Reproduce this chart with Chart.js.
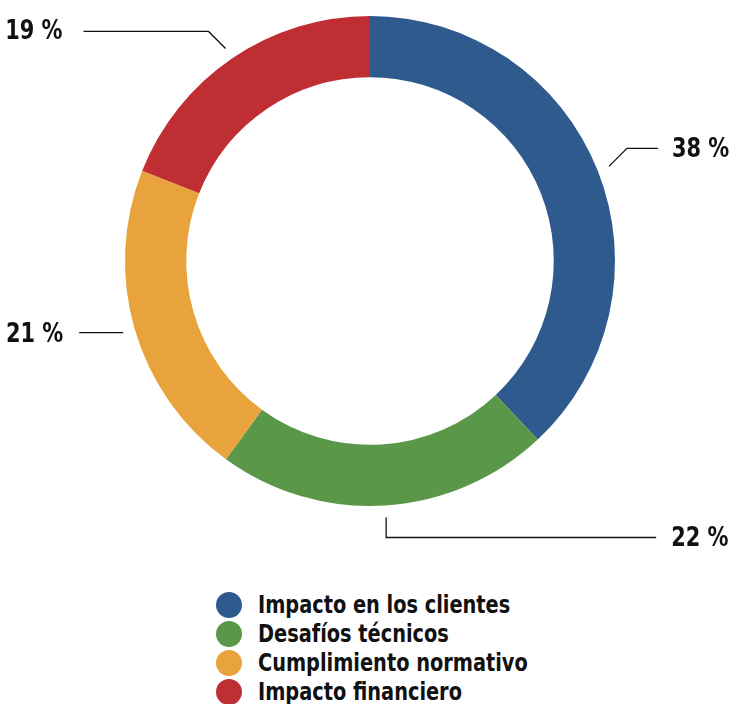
<!DOCTYPE html>
<html>
<head>
<meta charset="utf-8">
<script src="https://cdn.jsdelivr.net/npm/chart.js@4"></script>
<style>
    html, body { margin: 0; padding: 0; background: #fff; }
    #wrap { position: relative; width: 733px; height: 704px; overflow: hidden; }
    #chartBox { position: absolute; left: 0; top: 0; width: 733px; height: 570px; }
    #legend { position: absolute; left: 216px; top: 590px; font-family: "DejaVu Sans Condensed", sans-serif; font-size: 25px; font-weight: bold; color: #111; }
    #legend div { display: flex; align-items: center; height: 29px; }
    #legend span.dot { display: inline-block; width: 26px; height: 26px; border-radius: 50%; margin-right: 16px; flex: none; }
    #legend span.txt { display: inline-block; transform: scaleX(0.86); transform-origin: left center; white-space: nowrap; }
</style>
</head>
<body>
<div id="wrap">
    <div id="chartBox"><canvas id="donut"></canvas></div>
    <div id="legend"></div>
</div>
<script>
const categories = ['Impacto en los clientes', 'Desafíos técnicos', 'Cumplimiento normativo', 'Impacto financiero'];
const shares = [38, 22, 21, 19];
const colors = ['#2E5A8E', '#5B9748', '#E8A33D', '#BE2E32'];

document.addEventListener('DOMContentLoaded', function() {
    // Legend
    const legendDiv = document.getElementById('legend');
    categories.forEach((name, i) => {
        const row = document.createElement('div');
        row.innerHTML = `<span class="dot" style="background:${colors[i]}"></span><span class="txt">${name}</span>`;
        legendDiv.appendChild(row);
    });

    // Leader lines + percentage labels
    const leaderPlugin = {
        id: 'leaders',
        afterDatasetsDraw(chart) {
            const ctx = chart.ctx;
            const arcs = chart.getDatasetMeta(0).data;
            ctx.save();
            ctx.strokeStyle = '#111';
            ctx.lineWidth = 1.3;
            ctx.fillStyle = '#111';
            ctx.font = 'bold 27px "DejaVu Sans Condensed", sans-serif';
            ctx.textBaseline = 'middle';
            arcs.forEach((arc, i) => {
                const p = arc.getProps(['x', 'y', 'startAngle', 'endAngle', 'outerRadius']);
                const mid = (p.startAngle + p.endAngle) / 2;
                const r = p.outerRadius + 12;
                const sx = p.x + Math.cos(mid) * r;
                const sy = p.y + Math.sin(mid) * r;
                const text = shares[i] + ' %';
                ctx.beginPath();
                ctx.moveTo(sx, sy);
                let tx, ty, align;
                if (i === 0) {
                    ctx.lineTo(sx + 18, sy - 18);
                    ctx.lineTo(sx + 49, sy - 18);
                    tx = sx + 63; ty = sy - 17; align = 'left';
                } else if (i === 1) {
                    ctx.lineTo(sx, sy + 20);
                    ctx.lineTo(sx + 270, sy + 20);
                    tx = sx + 285; ty = sy + 20; align = 'left';
                } else if (i === 2) {
                    ctx.lineTo(sx - 44, sy);
                    tx = sx - 60; ty = sy + 1; align = 'right';
                } else {
                    ctx.lineTo(sx - 17, sy - 17);
                    ctx.lineTo(sx - 142, sy - 17);
                    tx = sx - 163; ty = sy - 17; align = 'right';
                }
                ctx.stroke();
                // narrow the text horizontally to mimic a condensed face
                ctx.save();
                ctx.translate(tx, ty + 1);
                ctx.scale(0.86, 1);
                ctx.textAlign = align;
                ctx.fillText(text, 0, 0);
                ctx.restore();
            });
            ctx.restore();
        }
    };

    new Chart(document.getElementById('donut').getContext('2d'), {
        type: 'doughnut',
        data: {
            labels: categories,
            datasets: [{
                data: shares,
                backgroundColor: colors,
                borderWidth: 0,
                hoverOffset: 0
            }]
        },
        options: {
            responsive: true,
            maintainAspectRatio: false,
            animation: false,
            cutout: '75%',
            layout: { padding: { left: 125, right: 118, top: 16, bottom: 64 } },
            plugins: {
                legend: { display: false },
                tooltip: { enabled: false }
            }
        },
        plugins: [leaderPlugin]
    });
});
</script>
</body>
</html>
